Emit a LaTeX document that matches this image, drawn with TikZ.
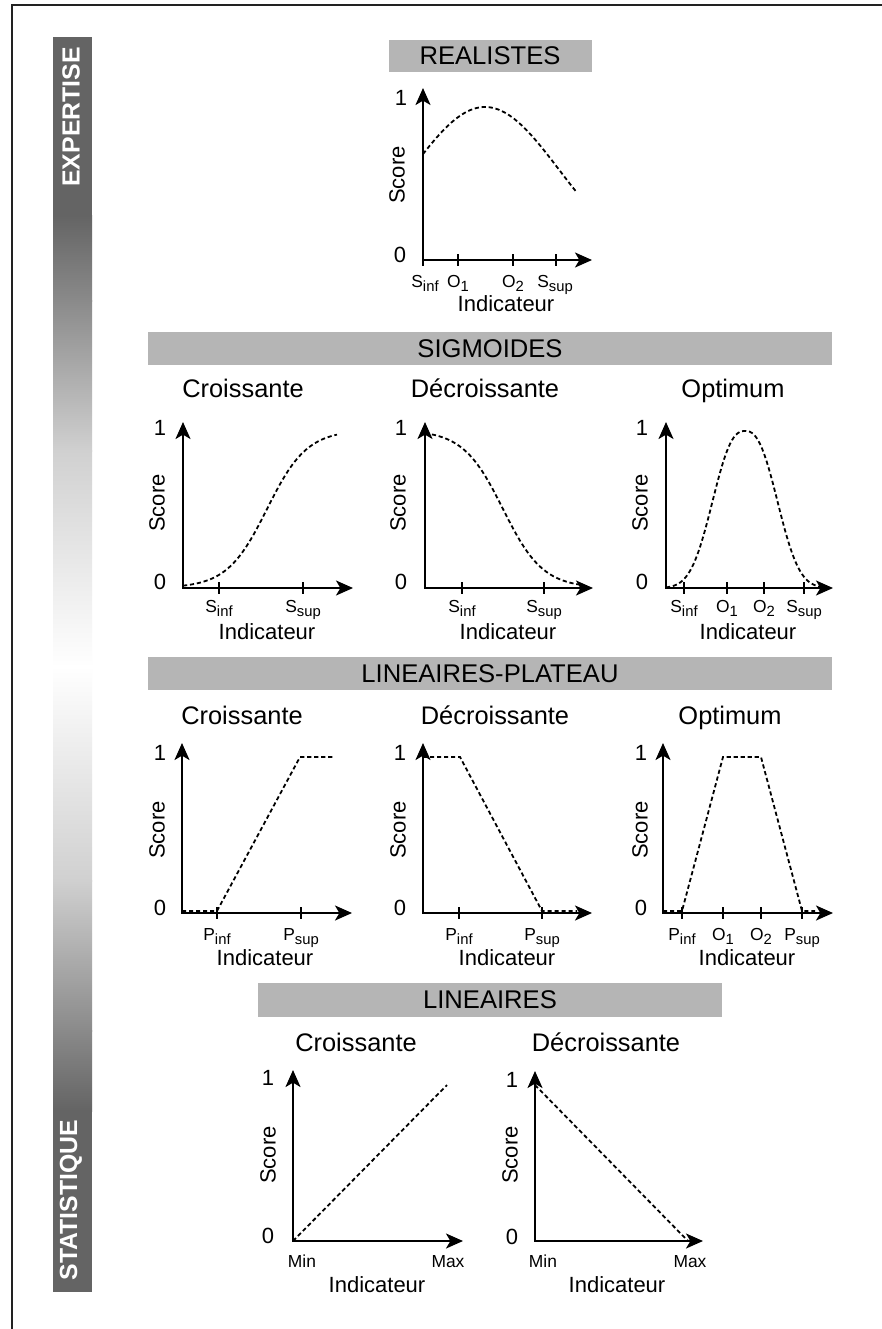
\documentclass[tikz,border=0pt]{standalone}
\usepackage{fontspec}
\setmainfont{Liberation Sans}
\usetikzlibrary{arrows.meta}
\definecolor{hdr}{RGB}{181,181,181}
\definecolor{barc}{RGB}{100,100,100}
\definecolor{barm}{RGB}{138,138,138}
\definecolor{barl}{RGB}{208,208,208}
\definecolor{frm}{RGB}{34,34,34}
\newcommand\lsub[1]{\raisebox{-0.45ex}{\fontsize{7.4}{8}\selectfont #1}}
\newcommand\axesat[5]{%
  \coordinate (#1o) at (#2,#3);
  \coordinate (#1x) at (#4,#3);
  \coordinate (#1y) at (#2,#5);
  \draw[axs] (#1y) -- (#1o) -- (#1x);
}
\begin{document}
\begin{tikzpicture}[x=0.5pt,y=-0.5pt,
  axs/.style={line width=1.05pt,{Stealth[length=8.5pt,width=7.5pt,inset=2.2pt]}-{Stealth[length=8.5pt,width=7.5pt,inset=2.2pt]}},
  crv/.style={line width=0.9pt,dash pattern=on 2.1pt off 1.4pt},
  tk/.style={line width=0.9pt},
  hdrtxt/.style={font=\fontsize{12.8}{14}\selectfont},
  ttl/.style={font=\fontsize{12.7}{14}\selectfont,anchor=base},
  lbl/.style={font=\fontsize{11}{13}\selectfont},
  scr/.style={font=\fontsize{11}{13}\selectfont,rotate=90},
  tl/.style={font=\fontsize{8.7}{10}\selectfont,anchor=base},
  bartxt/.style={font=\fontsize{12.4}{14}\selectfont\bfseries,text=white,rotate=90},
]
\useasboundingbox (0,0) rectangle (882,1329);
\fill[white] (0,0) rectangle (882,1329);
% frame
\draw[frm,line width=1pt] (11.5,1340) -- (11.5,5) -- (890,5);
% gradient bar
\fill[barc] (53,37) rectangle (92,216);
\shade[top color=barc,bottom color=barm] (53,215) rectangle (92,301);
\shade[top color=barm,bottom color=barl] (53,300) rectangle (92,451);
\shade[top color=barl,bottom color=white] (53,450) rectangle (92,667);
\shade[top color=white,bottom color=barl] (53,666) rectangle (92,881);
\shade[top color=barl,bottom color=barm] (53,880) rectangle (92,1031);
\shade[top color=barm,bottom color=barc] (53,1030) rectangle (92,1111);
\fill[barc] (53,1110) rectangle (92,1292);
\node[bartxt] (expertise) at (71,117) {EXPERTISE};
\node[bartxt] (statistique) at (71,1200) {STATISTIQUE};
% headers
\fill[hdr] (389,40) rectangle (592,72);
\node[hdrtxt] (hreal) at (490,56) {REALISTES};
\fill[hdr] (148,332) rectangle (832,365);
\node[hdrtxt] (hsig) at (490,349) {SIGMOIDES};
\fill[hdr] (148,657) rectangle (832,690);
\node[hdrtxt] (hlp) at (490,674) {LINEAIRES-PLATEAU};
\fill[hdr] (258,983) rectangle (722,1017);
\node[hdrtxt] (hlin) at (490,1000) {LINEAIRES};

% ===== REALISTES =====
\axesat{r}{423}{260}{592}{88}
\draw[tk] (423,260) -- (423,266);
\foreach \t in {458,513,556} \draw[tk] (\t,254) -- (\t,266);
\draw[crv] plot[domain=423:577,samples=60] (\x,{107+160*(1-exp(-((\x-485)/105)^2))});
\node[lbl] (r1) at (401,98) {1};
\node[lbl] (r0) at (400,255) {0};
\node[scr] (rs) at (397,175) {Score};
\node[tl] (rsi) at (425,287) {S\lsub{inf}};
\node[tl] (ro1) at (458,287) {O\lsub{1}};
\node[tl] (ro2) at (513,287) {O\lsub{2}};
\node[tl] (rss) at (555,287) {S\lsub{sup}};
\node[lbl] (ri) at (506,304) {Indicateur};

% ===== SIGMOIDES croissante =====
\node[ttl] (sct) at (243,397) {Croissante};
\axesat{sc}{183}{588}{353}{422}
\foreach \t in {219,303} \draw[tk] (\t,582) -- (\t,594);
\draw[crv] plot[domain=183:337,samples=60] (\x,{588-158/(1+exp(-(\x-267)/20))});
\node[lbl] (sc1) at (160,428) {1};
\node[lbl] (sc0) at (160,582) {0};
\node[scr] (scs) at (157,503) {Score};
\node[tl] (scsi) at (219,612) {S\lsub{inf}};
\node[tl] (scss) at (303,612) {S\lsub{sup}};
\node[lbl] (sci) at (267,632) {Indicateur};

% ===== SIGMOIDES decroissante =====
\node[ttl] (sdt) at (485,397) {Décroissante};
\axesat{sd}{425}{588}{593}{422}
\foreach \t in {462,544} \draw[tk] (\t,582) -- (\t,594);
\draw[crv] plot[domain=425:580,samples=60] (\x,{588-158/(1+exp((\x-503)/20))});
\node[lbl] (sd1) at (401,428) {1};
\node[lbl] (sd0) at (401,582) {0};
\node[scr] (sds) at (398,503) {Score};
\node[tl] (sdsi) at (462,612) {S\lsub{inf}};
\node[tl] (sdss) at (544,612) {S\lsub{sup}};
\node[lbl] (sdi) at (508,632) {Indicateur};

% ===== SIGMOIDES optimum =====
\node[ttl] (sot) at (733,397) {Optimum};
\axesat{so}{666}{588}{833}{422}
\foreach \t in {684,727,764,804} \draw[tk] (\t,582) -- (\t,594);
\draw[crv] plot[domain=666:822,samples=79] (\x,{588-157*exp(-pow(abs(\x-745)/40,2.5))});
\node[lbl] (so1) at (642,428) {1};
\node[lbl] (so0) at (642,582) {0};
\node[scr] (sos) at (640,503) {Score};
\node[tl] (sosi) at (684,612) {S\lsub{inf}};
\node[tl] (soo1) at (727,612) {O\lsub{1}};
\node[tl] (soo2) at (764,612) {O\lsub{2}};
\node[tl] (soss) at (804,612) {S\lsub{sup}};
\node[lbl] (soi) at (748,632) {Indicateur};

% ===== LP croissante =====
\node[ttl] (lct) at (242,724) {Croissante};
\axesat{lc}{182}{913}{352}{743}
\foreach \t in {217,301} \draw[tk] (\t,907) -- (\t,919);
\draw[crv] (182,911) -- (217,911) -- (300,757) -- (335,757);
\node[lbl] (lc1) at (160,753) {1};
\node[lbl] (lc0) at (160,908) {0};
\node[scr] (lcs) at (157,830) {Score};
\node[tl] (lcpi) at (217,940) {P\lsub{inf}};
\node[tl] (lcps) at (301,940) {P\lsub{sup}};
\node[lbl] (lci) at (265,958) {Indicateur};

% ===== LP decroissante =====
\node[ttl] (ldt) at (495,724) {Décroissante};
\axesat{ld}{423}{913}{592}{743}
\foreach \t in {459,542} \draw[tk] (\t,907) -- (\t,919);
\draw[crv] (423,757) -- (460,757) -- (542,911) -- (577,911);
\node[lbl] (ld1) at (400,753) {1};
\node[lbl] (ld0) at (400,908) {0};
\node[scr] (lds) at (398,830) {Score};
\node[tl] (ldpi) at (459,940) {P\lsub{inf}};
\node[tl] (ldps) at (542,940) {P\lsub{sup}};
\node[lbl] (ldi) at (507,958) {Indicateur};

% ===== LP optimum =====
\node[ttl] (lot) at (730,724) {Optimum};
\axesat{lo}{663}{913}{833}{743}
\foreach \t in {682,723,761,802} \draw[tk] (\t,907) -- (\t,919);
\draw[crv] (663,911) -- (682,911) -- (723,757) -- (761,757) -- (802,911) -- (815,911);
\node[lbl] (lo1) at (641,753) {1};
\node[lbl] (lo0) at (641,908) {0};
\node[scr] (los) at (640,830) {Score};
\node[tl] (lopi) at (682,940) {P\lsub{inf}};
\node[tl] (loo1) at (723,940) {O\lsub{1}};
\node[tl] (loo2) at (761,940) {O\lsub{2}};
\node[tl] (lops) at (802,940) {P\lsub{sup}};
\node[lbl] (loi) at (747,958) {Indicateur};

% ===== LINEAIRES croissante =====
\node[ttl] (lict) at (356,1051) {Croissante};
\axesat{lic}{293}{1241}{463}{1070}
\draw[crv] (293,1241) -- (447,1085);
\node[lbl] (lic1) at (268,1078) {1};
\node[lbl] (lic0) at (268,1236) {0};
\node[scr] (lics) at (268,1155) {Score};
\node[tl] (licmin) at (302,1267) {Min};
\node[tl] (licmax) at (448,1267) {Max};
\node[lbl] (lici) at (377,1285) {Indicateur};

% ===== LINEAIRES decroissante =====
\node[ttl] (lidt) at (606,1051) {Décroissante};
\axesat{lid}{535}{1241}{703}{1071}
\draw[crv] (535,1085) -- (688,1241);
\node[lbl] (lid1) at (512,1080) {1};
\node[lbl] (lid0) at (512,1237) {0};
\node[scr] (lids) at (510,1155) {Score};
\node[tl] (lidmin) at (543,1267) {Min};
\node[tl] (lidmax) at (690,1267) {Max};
\node[lbl] (lidi) at (617,1285) {Indicateur};
\end{tikzpicture}
\end{document}
